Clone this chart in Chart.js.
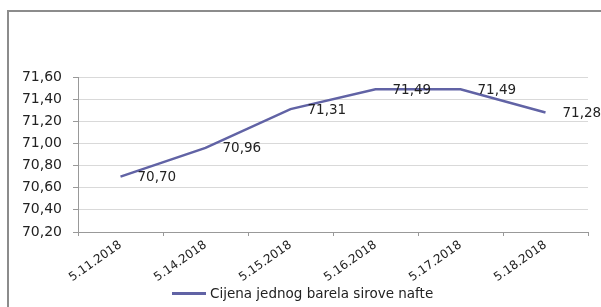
<!DOCTYPE html>
<html>
<head>
<meta charset="utf-8">
<script src="https://cdn.jsdelivr.net/npm/chart.js@4/dist/chart.umd.min.js"></script>
<style>
  html, body { margin: 0; padding: 0; background: #fff; overflow: hidden; }
  #okvir { position: absolute; left: 7px; top: 10px; width: 700px; height: 400px;
           border-left: 2px solid #8c8c8c; border-top: 2px solid #8c8c8c; }
  #wrap { position: absolute; left: -8px; top: 11px; width: 609px; height: 296px; }
  #legenda { position: absolute; left: 172px; top: 284px; height: 18px;
             font-family: "DejaVu Sans"; font-size: 13.5px; line-height: 18px; color: #222;
             white-space: nowrap; }
  #legenda .crta { display: inline-block; width: 34px; height: 3px; margin-right: 4px;
                   vertical-align: middle; position: relative; top: -1px; }
</style>
</head>
<body>
<div id="okvir"></div>
<div id="wrap"><canvas id="myChart"></canvas></div>
<div id="legenda"></div>
<script>
// podaci
var datumi = ['5.11.2018', '5.14.2018', '5.15.2018', '5.16.2018', '5.17.2018', '5.18.2018'];
var cijene = [70.70, 70.96, 71.31, 71.49, 71.49, 71.28];
var nazivSerije = 'Cijena jednog barela sirove nafte';
var yMin = 70.2, yMax = 71.6, yKorak = 0.2;

var boja = '#6163a5';
var font = 'DejaVu Sans';

function zarez(v) {
    return v.toFixed(2).replace('.', ',');
}

// oznake vrijednosti desno od tocke
const oznake = {
    id: 'oznake',
    afterDatasetsDraw(chart) {
        const ctx = chart.ctx;
        const meta = chart.getDatasetMeta(0);
        ctx.save();
        ctx.font = '13.5px "' + font + '"';
        ctx.fillStyle = '#222';
        ctx.textAlign = 'left';
        ctx.textBaseline = 'middle';
        meta.data.forEach((p, i) => {
            ctx.fillText(zarez(cijene[i]), p.x + 17, p.y + 1);
        });
        ctx.restore();
    }
};

const data = {
    labels: datumi,
    datasets: [{
        label: nazivSerije,
        data: cijene,
        borderColor: boja,
        backgroundColor: boja,
        borderWidth: 2.5,
        pointRadius: 0,
        tension: 0
    }]
};

const config = {
    type: 'line',
    data: data,
    plugins: [oznake],
    options: {
        responsive: true,
        maintainAspectRatio: false,
        animation: false,
        layout: { padding: { left: 0, right: 13, top: 66, bottom: 0 } },
        plugins: {
            tooltip: { enabled: false },
            legend: { display: false }
        },
        scales: {
            x: {
                offset: true,
                afterFit: (s) => { s.height = 75; },
                grid: { offset: true, drawOnChartArea: false, tickLength: 4, color: '#999' },
                border: { color: '#999' },
                ticks: {
                    minRotation: 35, maxRotation: 35,
                    padding: 2,
                    color: '#222',
                    font: { family: font, size: 12 }
                }
            },
            y: {
                min: yMin,
                max: yMax,
                afterFit: (s) => { s.width = 86; },
                grid: { color: '#d9d9d9', tickColor: '#999', tickLength: 5 },
                border: { color: '#999' },
                ticks: {
                    stepSize: yKorak,
                    padding: 11,
                    color: '#222',
                    font: { family: font, size: 14 },
                    callback: (v) => zarez(v)
                }
            }
        }
    }
};

const myChart = new Chart(document.getElementById('myChart'), config);

// legenda iz podataka grafikona
myChart.data.datasets.forEach(ds => {
    var stavka = '<span class="crta" style="background:' + ds.borderColor + '"></span>' + ds.label;
    document.getElementById('legenda').innerHTML += stavka;
});
</script>
</body>
</html>
